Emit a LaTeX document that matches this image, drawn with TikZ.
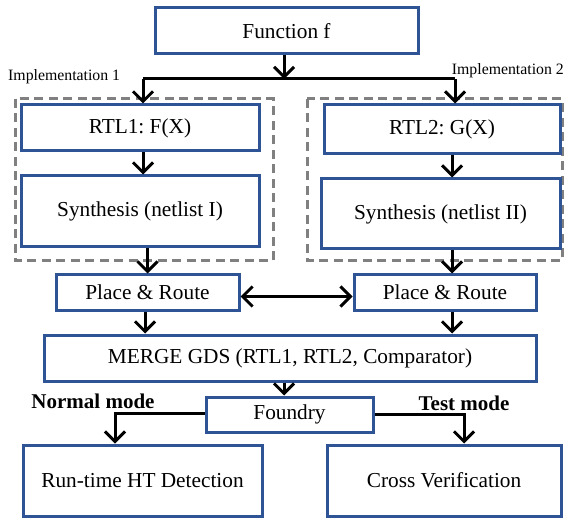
\documentclass[tikz,border=0pt]{standalone}
\usepackage{fontspec}
\setmainfont{Liberation Serif}
\usetikzlibrary{arrows.meta}
\definecolor{boxblue}{HTML}{2F5496}
\definecolor{dashgray}{HTML}{808080}
\frenchspacing
\begin{document}
\begin{tikzpicture}[x=1pt,y=-1pt,
  box/.style={draw=boxblue,line width=3pt,fill=white,inner sep=0pt,font=\fontsize{21.3}{24}\selectfont\frenchspacing},
  grp/.style={draw=dashgray,line width=3pt,dash pattern=on 9pt off 5.5pt},
  arr/.style={line width=3pt,-{Straight Barb[length=10pt,width=20pt]}},
  dbl/.style={line width=3pt,{Straight Barb[length=10pt,width=20pt]}-{Straight Barb[length=10pt,width=20pt]}},
  conn/.style={line width=3pt},
  lab/.style={inner sep=0pt,font=\fontsize{15.8}{18}\selectfont},
  mode/.style={inner sep=0pt,font=\fontsize{21}{24}\selectfont\bfseries}]
\useasboundingbox (0,0) rectangle (564,518);
% dashed groups
\draw[grp] (15,99) rectangle (273,261);
\draw[grp] (307,99) rectangle (562,261);
% boxes
\node[box,minimum width=263pt,minimum height=46pt] (func) at (286.5,31) {Function f};
\node[box,minimum width=238pt,minimum height=46pt] (rtl1) at (140,128) {RTL1: F(X)};
\node[box,minimum width=238pt,minimum height=71pt] (syn1) at (140,211.5) {Synthesis (netlist I)};
\node[box,minimum width=236pt,minimum height=49pt] (rtl2) at (442,129.5) {RTL2: G(X)};
\node[box,minimum width=239pt,minimum height=70pt] (syn2) at (440.5,214) {Synthesis (netlist II)};
\node[box,minimum width=183pt,minimum height=35pt] (pr1) at (147.5,292.5) {Place \& Route};
\node[box,minimum width=182pt,minimum height=35pt] (pr2) at (445,292.5) {Place \& Route};
\node[box,minimum width=492pt,minimum height=46pt] (merge) at (290,358) {MERGE GDS (RTL1, RTL2, Comparator)};
\node[box,minimum width=167pt,minimum height=35pt] (found) at (289.5,414.5) {Foundry};
\node[box,minimum width=239pt,minimum height=71pt] (rt) at (142.5,480.5) {Run-time HT Detection};
\node[box,minimum width=234pt,minimum height=71pt] (cv) at (444,480.5) {Cross Verification};
% labels
\node[lab,anchor=west] (impl1) at (8,77) {Implementation 1};
\node[lab,anchor=east] (impl2) at (564,71) {Implementation 2};
\node[mode] (nm) at (93,401) {Normal mode};
\node[mode] (tm) at (464,403) {Test mode};
% connectors
\coordinate (jf) at (284,79);
\coordinate (jl) at (143,79);
\coordinate (jr) at (455,79);
\coordinate (x1) at (145,0);
\coordinate (x2) at (452,0);
\coordinate (xm) at (284,0);
\coordinate (nl) at (115,413);
\coordinate (tr) at (464,414);
\draw[arr] (func.south -| jf) -- (jf);
\draw[conn] (jl) -- (jr);
\draw[arr] (jl) -- (rtl1.north -| jl);
\draw[arr] (jr) -- (rtl2.north -| jr);
\draw[arr] (rtl1.south -| jl) -- (syn1.north -| jl);
\draw[arr] (rtl2.south -| x2) -- (syn2.north -| x2);
\draw[arr] (syn1.south -| pr1.north) -- (pr1.north);
\draw[arr] (syn2.south -| x2) -- (pr2.north -| x2);
\draw[dbl] ([yshift=-4pt]pr1.east) -- ([yshift=-4pt]pr2.west);
\draw[arr] (pr1.south -| x1) -- (merge.north -| x1);
\draw[arr] (pr2.south -| x2) -- (merge.north -| x2);
\draw[arr] (merge.south -| xm) -- (found.north -| xm);
\draw[arr] (found.west |- nl) -- (nl) -- (rt.north -| nl);
\draw[arr] (found.east |- tr) -- (tr) -- (cv.north -| tr);
\end{tikzpicture}
\end{document}
